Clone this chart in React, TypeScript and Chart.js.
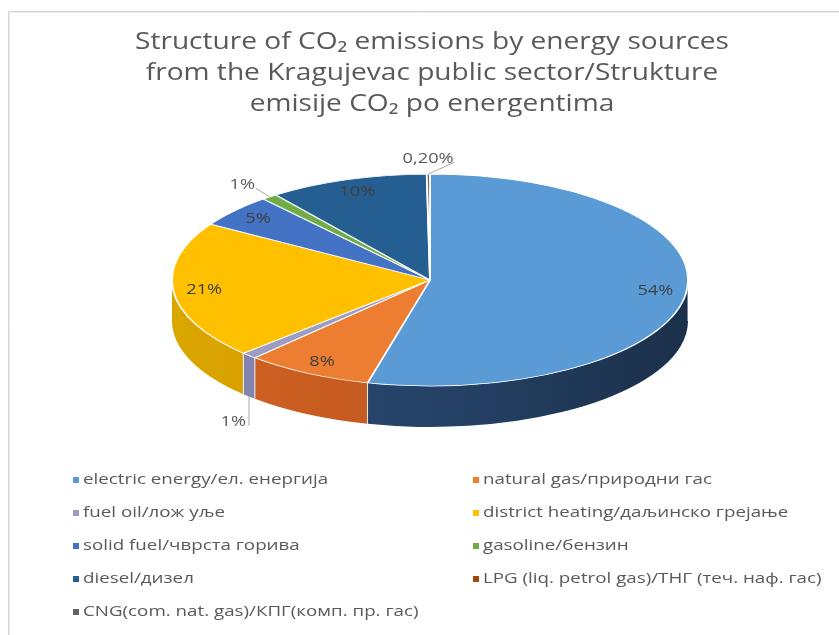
import React, { useEffect, useRef } from 'react';
import { Chart, registerables } from 'chart.js';

Chart.register(...registerables);

// Chart text and data
const TITLE_LINES = [
  'Structure of CO₂ emissions by energy sources',
  'from the Kragujevac public sector/Strukture',
  'emisije CO₂ po energentima',
];

const SOURCES = [
  'electric energy/ел. енергија',
  'natural gas/природни гас',
  'fuel oil/лож уље',
  'district heating/даљинско грејање',
  'solid fuel/чврста горива',
  'gasoline/бензин',
  'diesel/дизел',
  'LPG (liq. petrol gas)/ТНГ (теч. наф. гас)',
  'CNG(com. nat. gas)/КПГ(комп. пр. гас)',
];

// share of total CO2 emissions, %
const SHARES = [54, 8, 1, 21, 5, 1, 10, 0, 0.2];

// Styling
const TOP_COLORS = ['#5b9bd5', '#ed7d31', '#9d9dc4', '#ffc000', '#4472c4', '#70ad47', '#255e91', '#9e480e', '#636363'];
const SIDE_COLORS = ['#26446a', '#c25a1f', '#7c7ca6', '#cc9a00', '#34589a', '#568a36', '#1c4770', '#7a370a', '#4d4d4d'];
const FONT = "'Open Sans', 'Noto Sans', sans-serif";
const DEPTH = 41;
const TEXT_GREY = '#595959';
const LABEL_GREY = '#404040';

const TITLE_X = 432;
const TITLE_Y0 = 42;
const TITLE_LINE_H = 31;
const TITLE_STRETCH = 1.17;
const LABEL_STRETCH = 1.3;
const LEGEND_STRETCH = 1.34;

function shade(hex: string, f: number): string {
  const n = parseInt(hex.slice(1), 16);
  const c = [(n >> 16) & 255, (n >> 8) & 255, n & 255].map((v) => Math.max(0, Math.min(255, Math.round(v * f))));
  return `rgb(${c[0]},${c[1]},${c[2]})`;
}

function formatShare(v: number): string {
  if (v <= 0) return '';
  if (v < 1) return v.toFixed(2).replace('.', ',') + '%';
  return Math.round(v) + '%';
}

// text drawn with a wider letter shape
function wideText(ctx: CanvasRenderingContext2D, text: string, x: number, y: number, stretch: number) {
  ctx.save();
  ctx.translate(x, y);
  ctx.scale(stretch, 1);
  ctx.fillText(text, 0, 0);
  ctx.restore();
}

function pieGeom(chart: any) {
  const a = chart.chartArea;
  const rx = (a.right - a.left) / 2;
  const ry = (a.bottom - a.top - DEPTH) / 2;
  const arc0 = chart.getDatasetMeta(0).data[0];
  return {
    cx: (a.left + a.right) / 2,
    cy: a.top + ry,
    rx,
    ry,
    R: arc0.outerRadius,
    x0: arc0.x,
    y0: arc0.y,
  };
}

// Frame around the chart and the title
const framePlugin = {
  id: 'frame',
  beforeDraw(chart: any) {
    const ctx = chart.ctx;
    ctx.save();
    ctx.fillStyle = '#ffffff';
    ctx.fillRect(0, 0, chart.width, chart.height);
    ctx.strokeStyle = '#d4d4d4';
    ctx.lineWidth = 1;
    ctx.beginPath();
    ctx.moveTo(8.5, chart.height);
    ctx.lineTo(8.5, 11.5);
    ctx.lineTo(chart.width, 11.5);
    ctx.stroke();
    ctx.strokeStyle = '#ededed';
    ctx.beginPath();
    ctx.moveTo(9.5, chart.height);
    ctx.lineTo(9.5, 12.5);
    ctx.lineTo(chart.width, 12.5);
    ctx.stroke();

    ctx.font = `24px ${FONT}`;
    ctx.fillStyle = TEXT_GREY;
    ctx.textAlign = 'center';
    ctx.textBaseline = 'middle';
    TITLE_LINES.forEach((line, i) => {
      wideText(ctx, line, TITLE_X, TITLE_Y0 + i * TITLE_LINE_H, TITLE_STRETCH);
    });
    ctx.restore();
  },
};

// Flattens the pie into an ellipse and adds the extruded rim
const pie3dPlugin = {
  id: 'pie3d',
  beforeDatasetsDraw(chart: any) {
    const ctx = chart.ctx;
    const g = pieGeom(chart);
    const arcs = chart.getDatasetMeta(0).data;
    arcs.forEach((arc: any, i: number) => {
      const a = Math.max(arc.startAngle, 0);
      const b = Math.min(arc.endAngle, Math.PI);
      if (b - a <= 1e-6) return;
      const base = SIDE_COLORS[i];
      const grad = ctx.createLinearGradient(g.cx - g.rx, 0, g.cx + g.rx, 0);
      grad.addColorStop(0, shade(base, 1.08));
      grad.addColorStop(0.45, shade(base, 1));
      grad.addColorStop(1, shade(base, 0.7));
      ctx.save();
      ctx.beginPath();
      ctx.ellipse(g.cx, g.cy, g.rx, g.ry, 0, a, b, false);
      ctx.lineTo(g.cx + g.rx * Math.cos(b), g.cy + DEPTH + g.ry * Math.sin(b));
      ctx.ellipse(g.cx, g.cy + DEPTH, g.rx, g.ry, 0, b, a, true);
      ctx.closePath();
      ctx.fillStyle = grad;
      ctx.fill();
      ctx.strokeStyle = 'rgba(255,255,255,0.85)';
      ctx.lineWidth = 1;
      ctx.beginPath();
      ctx.moveTo(g.cx + g.rx * Math.cos(a), g.cy + g.ry * Math.sin(a));
      ctx.lineTo(g.cx + g.rx * Math.cos(a), g.cy + DEPTH + g.ry * Math.sin(a));
      ctx.stroke();
      ctx.restore();
    });
    ctx.save();
    ctx.translate(g.cx, g.cy);
    ctx.scale(g.rx / g.R, g.ry / g.R);
    ctx.translate(-g.x0, -g.y0);
  },
  afterDatasetsDraw(chart: any) {
    const ctx = chart.ctx;
    ctx.restore();
    const g = pieGeom(chart);
    const arcs = chart.getDatasetMeta(0).data;
    const values = chart.data.datasets[0].data as number[];
    ctx.save();
    ctx.font = `14px ${FONT}`;
    ctx.textAlign = 'center';
    ctx.textBaseline = 'middle';
    arcs.forEach((arc: any, i: number) => {
      const text = formatShare(values[i]);
      if (!text) return;
      const mid = (arc.startAngle + arc.endAngle) / 2;
      const c = Math.cos(mid);
      const s = Math.sin(mid);
      if (values[i] >= 2) {
        ctx.fillStyle = LABEL_GREY;
        wideText(ctx, text, g.cx + g.rx * 0.88 * c, g.cy + g.ry * 0.88 * s, LABEL_STRETCH);
        return;
      }
      const w = ctx.measureText(text).width * LABEL_STRETCH;
      const ex = g.cx + g.rx * c;
      let ey = g.cy + g.ry * s;
      let lx: number, ly: number, tx: number, ty: number;
      if (s > 0) {
        ey += DEPTH;
        lx = ex - 3 - w / 2;
        ly = ey + 25;
        tx = ex;
        ty = ly + 4;
      } else {
        lx = g.cx + g.rx * 1.17 * c;
        ly = g.cy + g.ry * 1.14 * s;
        tx = lx + (c < 0 ? 1 : -1) * (w / 2 + 1);
        ty = ly + 3;
      }
      if (Math.hypot(tx - ex, ty - ey) > 10) {
        ctx.strokeStyle = '#a6a6a6';
        ctx.lineWidth = 1;
        ctx.beginPath();
        ctx.moveTo(ex, ey);
        ctx.lineTo(tx, ty);
        ctx.stroke();
      }
      ctx.fillStyle = TEXT_GREY;
      wideText(ctx, text, lx, ly, LABEL_STRETCH);
    });
    ctx.restore();
  },
};

// Two-column legend under the pie
const LEGEND_X = [76, 476];
const LEGEND_Y0 = 480;
const LEGEND_ROW = 33;
const legendGridPlugin = {
  id: 'legendGrid',
  afterDraw(chart: any) {
    const ctx = chart.ctx;
    const gen = chart.options.plugins.legend.labels.generateLabels;
    const items = gen(chart);
    ctx.save();
    ctx.font = `14px ${FONT}`;
    ctx.textBaseline = 'middle';
    ctx.textAlign = 'left';
    items.forEach((it: any, i: number) => {
      const x = LEGEND_X[i % 2];
      const y = LEGEND_Y0 + Math.floor(i / 2) * LEGEND_ROW;
      ctx.fillStyle = it.fillStyle;
      ctx.fillRect(x - 3, y - 3, 6, 6);
      ctx.fillStyle = TEXT_GREY;
      wideText(ctx, it.text, x + 7, y, LEGEND_STRETCH);
    });
    ctx.restore();
  },
};

export default function App() {
  const canvasRef = useRef<HTMLCanvasElement>(null);

  useEffect(() => {
    const canvas = canvasRef.current;
    if (!canvas) return;
    const chart = new Chart(canvas, {
      type: 'pie',
      data: {
        labels: SOURCES,
        datasets: [
          {
            data: SHARES,
            backgroundColor: TOP_COLORS,
            borderColor: '#ffffff',
            borderWidth: 0.9,
            clip: false,
          } as any,
        ],
      },
      options: {
        responsive: false,
        animation: false,
        events: [],
        layout: { padding: { left: 172, right: 151, top: 174, bottom: 208 } },
        plugins: {
          legend: { display: false },
          tooltip: { enabled: false },
          title: { display: false },
        },
      },
      plugins: [framePlugin, pie3dPlugin, legendGridPlugin],
    });
    return () => chart.destroy();
  }, []);

  return (
    <div style={{ position: 'fixed', left: 0, top: 0, width: 839, height: 635, background: '#ffffff' }}>
      <canvas ref={canvasRef} width={839} height={635} style={{ display: 'block' }} />
    </div>
  );
}
